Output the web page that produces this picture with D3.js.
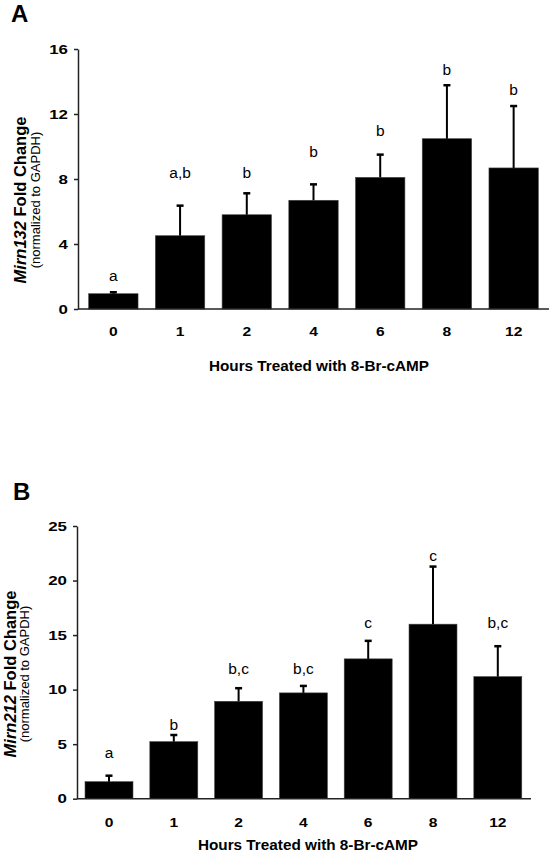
<!DOCTYPE html>
<html>
<head>
<meta charset="utf-8">
<script src="https://cdn.jsdelivr.net/npm/d3@7"></script>
<style>
  html, body { margin: 0; padding: 0; background: #fff; }
  svg { display: block; }
  text { font-family: "Liberation Sans", Arial, Helvetica, sans-serif; fill: #000; }
</style>
</head>
<body>
<svg id="chart" width="550" height="852"></svg>
<script>
// ---- data ----
const hours = ["0", "1", "2", "4", "6", "8", "12"];

const mirn132Mean = [0.94, 4.51, 5.80, 6.69, 8.10, 10.48, 8.68];
const mirn132Err = [0.09, 1.85, 1.32, 0.98, 1.40, 3.29, 3.81];
const mirn132Letters = ["a", "a,b", "b", "b", "b", "b", "b"];
const mirn132LetterAt = [2.03, 8.37, 8.37, 9.68, 10.95, 14.75, 13.48];
const mirn132Ticks = [0, 4, 8, 12, 16];

const mirn212Mean = [1.56, 5.23, 8.93, 9.70, 12.82, 16.0, 11.19];
const mirn212Err = [0.55, 0.61, 1.20, 0.64, 1.65, 5.28, 2.79];
const mirn212Letters = ["a", "b", "b,c", "b,c", "c", "c", "b,c"];
const mirn212LetterAt = [4.22, 6.83, 11.93, 11.96, 16.18, 22.27, 16.18];
const mirn212Ticks = [0, 5, 10, 15, 20, 25];

const xTitle = "Hours Treated with 8-Br-cAMP";

const svg = d3.select("#chart");

function panel(cfg) {
  const g = svg.append("g");
  const y = d3.scaleLinear().domain(cfg.yDomain).range(cfg.yRange);
  const x = d3.scaleBand().domain(hours).range(cfg.xRange)
    .paddingInner(0.26).paddingOuter(0.13);

  // panel letter
  g.append("text").attr("x", cfg.letterX).attr("y", cfg.letterY)
    .attr("font-size", 24).attr("font-weight", "bold").text(cfg.letter);

  // bars
  g.selectAll("rect.bar").data(cfg.mean).join("rect")
    .attr("x", (d, i) => x(hours[i]))
    .attr("width", x.bandwidth())
    .attr("y", d => y(d))
    .attr("height", d => y(0) - y(d))
    .attr("fill", "#000")
    .attr("stroke", "#444").attr("stroke-width", 0.6);

  // error bars
  const cx = i => x(hours[i]) + x.bandwidth() / 2;
  g.selectAll("line.err").data(cfg.mean).join("line")
    .attr("x1", (d, i) => cx(i)).attr("x2", (d, i) => cx(i))
    .attr("y1", d => y(d)).attr("y2", (d, i) => y(d + cfg.err[i]))
    .attr("stroke", "#000").attr("stroke-width", 2);
  g.selectAll("line.cap").data(cfg.mean).join("line")
    .attr("x1", (d, i) => cx(i) - 3.5).attr("x2", (d, i) => cx(i) + 3.5)
    .attr("y1", (d, i) => y(d + cfg.err[i])).attr("y2", (d, i) => y(d + cfg.err[i]))
    .attr("stroke", "#000").attr("stroke-width", 2.5);

  // significance letters
  g.selectAll("text.sig").data(cfg.letters).join("text")
    .attr("x", (d, i) => cx(i))
    .attr("y", (d, i) => y(cfg.letterAt[i]))
    .attr("dy", "0.35em")
    .attr("text-anchor", "middle")
    .attr("font-size", 15.5)
    .text(d => d);

  // y axis
  const yAxis = d3.axisLeft(y).tickValues(cfg.ticks).tickSize(4).tickPadding(6).tickSizeOuter(0);
  const ya = g.append("g").attr("transform", `translate(${cfg.axisX},0)`).call(yAxis);
  ya.select(".domain").attr("stroke", "#222").attr("stroke-width", 1.5);
  ya.selectAll(".tick line").attr("stroke", "#222").attr("stroke-width", 1.5);
  const ys = 1.3;
  ya.selectAll(".tick text")
    .attr("font-size", 13).attr("font-weight", "bold")
    .attr("font-family", "Liberation Sans, Arial, sans-serif").attr("fill", "#000")
    .attr("x", -10 / ys)
    .attr("transform", `scale(${ys},1)`);

  // x baseline
  g.append("line").attr("x1", cfg.axisX).attr("x2", cfg.baseEnd)
    .attr("y1", y(0)).attr("y2", y(0))
    .attr("stroke", "#222").attr("stroke-width", 1.5);

  // x tick labels
  const xs = 1.2;
  g.selectAll("text.xt").data(hours).join("text")
    .attr("transform", d => `translate(${x(d) + x.bandwidth() / 2},${y(0) + cfg.xLabelOff}) scale(${xs},1)`)
    .attr("dy", "0.35em")
    .attr("text-anchor", "middle")
    .attr("font-size", 13).attr("font-weight", "bold")
    .text(d => d);

  // x title
  g.append("text").attr("x", cfg.xTitleX).attr("y", cfg.xTitleY)
    .attr("dy", "0.35em").attr("text-anchor", "middle")
    .attr("font-size", 15.3).attr("font-weight", "bold").text(xTitle);

  // y title
  const yt = g.append("text")
    .attr("transform", `translate(${cfg.yTitleX},${cfg.yTitleCY}) rotate(-90)`)
    .attr("text-anchor", "middle").attr("font-size", 16.5).attr("font-weight", "bold");
  yt.append("tspan").attr("font-style", "italic").text(cfg.gene);
  yt.append("tspan").text(" Fold Change");
  g.append("text")
    .attr("transform", `translate(${cfg.ySubX},${cfg.yTitleCY}) rotate(-90)`)
    .attr("text-anchor", "middle").attr("font-size", 13)
    .text("(normalized to GAPDH)");
}

panel({
  letter: "A", letterX: 11, letterY: 22,
  gene: "Mirn132",
  mean: mirn132Mean, err: mirn132Err, letters: mirn132Letters, letterAt: mirn132LetterAt,
  ticks: mirn132Ticks, yDomain: [0, 16], yRange: [309, 49],
  xRange: [80, 547], axisX: 78, baseEnd: 549,
  xLabelOff: 22.5, xTitleX: 319, xTitleY: 365.6,
  yTitleX: 26, ySubX: 40, yTitleCY: 200
});

panel({
  letter: "B", letterX: 13, letterY: 500,
  gene: "Mirn212",
  mean: mirn212Mean, err: mirn212Err, letters: mirn212Letters, letterAt: mirn212LetterAt,
  ticks: mirn212Ticks, yDomain: [0, 25], yRange: [798.7, 526],
  xRange: [76.6, 530.2], axisX: 77, baseEnd: 531,
  xLabelOff: 24, xTitleX: 308, xTitleY: 845,
  yTitleX: 16, ySubX: 29, yTitleCY: 674
});
</script>
</body>
</html>
